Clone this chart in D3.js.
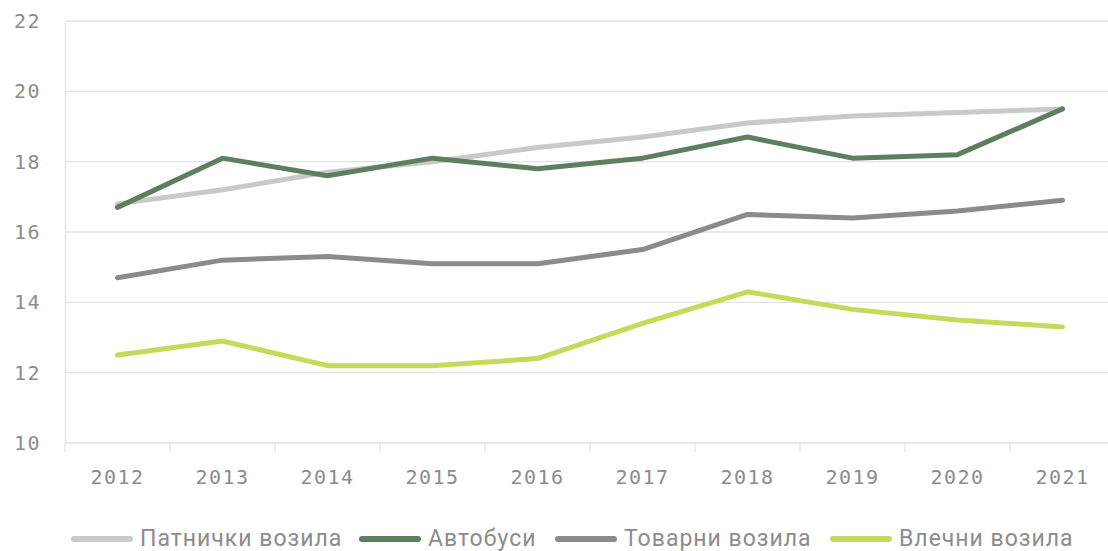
<!doctype html>
<html>
<head>
<meta charset="utf-8">
<script src="https://cdnjs.cloudflare.com/ajax/libs/d3/7.8.5/d3.min.js"></script>
<style>
  body { margin: 0; background: #fff; }
  svg text { fill: #8c8c8c; }
  .tick text { font-family: "DejaVu Sans Mono", monospace; font-size: 20px; letter-spacing: 1.5px; }
  .legend text { font-family: Roboto, "Liberation Sans", sans-serif; font-size: 23px; letter-spacing: 1px; }
</style>
</head>
<body>
<script>
const years = ["2012","2013","2014","2015","2016","2017","2018","2019","2020","2021"];
const seriesNames = ["Патнички возила","Автобуси","Товарни возила","Влечни возила"];
const seriesColors = ["#c9c9c9","#5e7f5e","#8b8b8b","#c6d95a"];
const patnicki = [16.8,17.2,17.7,18.0,18.4,18.7,19.1,19.3,19.4,19.5];
const avtobusi = [16.7,18.1,17.6,18.1,17.8,18.1,18.7,18.1,18.2,19.5];
const tovarni  = [14.7,15.2,15.3,15.1,15.1,15.5,16.5,16.4,16.6,16.9];
const vlecni   = [12.5,12.9,12.2,12.2,12.4,13.4,14.3,13.8,13.5,13.3];
const yTicks = [10,12,14,16,18,20,22];

const series = [patnicki, avtobusi, tovarni, vlecni];

const width = 1108, height = 551;
const plotLeft = 65, plotRight = 1115, plotTop = 21, plotBottom = 443;

const svg = d3.select("body").append("svg")
  .attr("width", width).attr("height", height);

const x = d3.scaleBand().domain(years).range([plotLeft, plotRight]);
const y = d3.scaleLinear().domain([10, 22]).range([plotBottom, plotTop]);

// gridlines
svg.append("g")
  .selectAll("line")
  .data(yTicks)
  .enter().append("line")
  .attr("x1", plotLeft).attr("x2", width)
  .attr("y1", d => y(d)).attr("y2", d => y(d))
  .attr("stroke", "#e3e3e3").attr("stroke-width", 1.3);

// y axis
const yAxis = svg.append("g")
  .attr("transform", "translate(" + plotLeft + ",0)")
  .call(d3.axisLeft(y).tickValues(yTicks).tickSize(0).tickPadding(24));
yAxis.select(".domain").attr("stroke", "#e3e3e3").attr("stroke-width", 1.3);

// x axis
const xAxis = svg.append("g")
  .attr("transform", "translate(0," + plotBottom + ")")
  .call(d3.axisBottom(x).tickSize(0).tickPadding(27));
xAxis.select(".domain").remove();
svg.append("g")
  .selectAll("line")
  .data(years)
  .enter().append("line")
  .attr("x1", d => x(d)).attr("x2", d => x(d))
  .attr("y1", plotBottom).attr("y2", plotBottom + 9)
  .attr("stroke", "#e3e3e3").attr("stroke-width", 1.3);

// lines
const line = d3.line()
  .x((d, i) => x(years[i]) + x.bandwidth() / 2)
  .y(d => y(d));

svg.append("g")
  .selectAll("path")
  .data(series)
  .enter().append("path")
  .attr("d", line)
  .attr("fill", "none")
  .attr("stroke", (d, i) => seriesColors[i])
  .attr("stroke-width", 5)
  .attr("stroke-linejoin", "round")
  .attr("stroke-linecap", "round");

// legend
const legendX = [74, 362, 558, 833];
const legend = svg.append("g").attr("class", "legend");
const items = legend.selectAll("g")
  .data(seriesNames)
  .enter().append("g")
  .attr("transform", (d, i) => "translate(" + legendX[i] + ",539)");
items.append("line")
  .attr("x1", 0).attr("x2", 56)
  .attr("stroke", (d, i) => seriesColors[i])
  .attr("stroke-width", 6)
  .attr("stroke-linecap", "round");
items.append("text")
  .attr("x", 66).attr("y", 7)
  .text(d => d);
</script>
</body>
</html>
